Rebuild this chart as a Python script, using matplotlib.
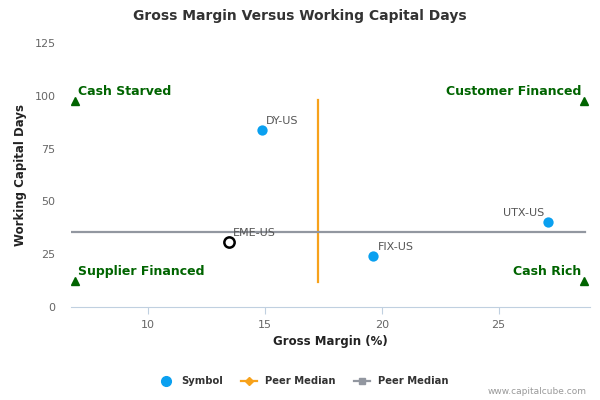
"""Gross margin vs working capital days quadrant chart."""

import matplotlib

matplotlib.use("Agg")
import matplotlib.pyplot as plt
from matplotlib.lines import Line2D

# Peer points
symbols = ["DY-US", "FIX-US", "UTX-US"]
gross_margin = [14.87, 19.64, 27.12]
wc_days = [83.8, 24.3, 40.4]

# Highlighted company (open circle)
focus_symbol = "EME-US"
focus_margin = 13.46
focus_days = 30.8

# Peer medians
median_margin = 17.28
median_days = 35.5
median_margin_span = [12.0, 98.0]
median_days_span = [6.7, 28.7]

# Quadrant markers
quad_x = [6.9, 28.65]
quad_y = [12.3, 97.5]
quad_labels = {
    "Cash Starved": (0, 1),
    "Customer Financed": (1, 1),
    "Supplier Financed": (0, 0),
    "Cash Rich": (1, 0),
}

xticks = [10, 15, 20, 25]
yticks = [0, 25, 50, 75, 100, 125]

BLUE = "#0aa0f0"
ORANGE = "#f7a21b"
GREY = "#9297a0"
GREEN = "#006400"

plt.rcParams["font.family"] = ["DejaVu Sans"]

fig = plt.figure(figsize=(6, 4), dpi=100)
ax = fig.add_axes([0.118, 0.2325, 0.865, 0.66])

ax.plot([median_margin, median_margin], median_margin_span, color=ORANGE, lw=1.6, zorder=2)
ax.plot(median_days_span, [median_days, median_days], color=GREY, lw=1.6, zorder=2)

ax.scatter(gross_margin, wc_days, s=55, color=BLUE, zorder=4, linewidths=0)
for sym, x, y in zip(symbols, gross_margin, wc_days):
    if sym == "UTX-US":
        ax.annotate(sym, (x, y), xytext=(-3, 3), textcoords="offset points",
                    ha="right", va="bottom", fontsize=8, color="#555555")
    else:
        ax.annotate(sym, (x, y), xytext=(3, 3), textcoords="offset points",
                    ha="left", va="bottom", fontsize=8, color="#555555")

ax.scatter([focus_margin], [focus_days], s=55, facecolor="white", edgecolor="black",
           linewidths=1.8, zorder=4)
ax.annotate(focus_symbol, (focus_margin, focus_days), xytext=(3, 3),
            textcoords="offset points", ha="left", va="bottom", fontsize=8,
            color="#555555")

for label, (i, j) in quad_labels.items():
    x, y = quad_x[i], quad_y[j]
    ax.plot(x, y, marker="^", color=GREEN, ms=5.5, zorder=3)
    ax.annotate(label, (x, y), xytext=(2 if i == 0 else -2, 2),
                textcoords="offset points", ha="left" if i == 0 else "right",
                va="bottom", fontsize=9, fontweight="bold", color=GREEN)

ax.set_xlim(6.7, 28.9)
ax.set_ylim(0, 125)
ax.set_xticks(xticks)
ax.set_yticks(yticks)
for side in ["top", "right", "left"]:
    ax.spines[side].set_visible(False)
ax.spines["bottom"].set_color("#c0d0e0")
ax.tick_params(axis="x", colors="#c0d0e0", labelcolor="#666666", labelsize=8,
               length=5, pad=4)
ax.tick_params(axis="y", length=0, labelcolor="#666666", labelsize=8, pad=11)

ax.set_xlabel("Gross Margin (%)", fontsize=8.5, fontweight="bold", color="#222222",
              labelpad=4)
ax.set_ylabel("Working Capital Days", fontsize=8.5, fontweight="bold", color="#222222",
              labelpad=5)
fig.text(0.5, 0.96, "Gross Margin Versus Working Capital Days", ha="center", va="center",
         fontsize=10, fontweight="bold", color="#333333")

handles = [
    Line2D([], [], marker="o", color=BLUE, ls="none", ms=7),
    Line2D([], [], marker="D", color=ORANGE, lw=1.6, ms=4),
    Line2D([], [], marker="s", color=GREY, lw=1.6, ms=5),
]
fig.legend(handles, ["Symbol", "Peer Median", "Peer Median"], loc="center",
           bbox_to_anchor=(0.505, 0.047), ncol=3, frameon=False, handlelength=1.6,
           columnspacing=1.8, prop={"size": 7.2, "weight": "bold"}, labelcolor="#333333")
fig.text(0.978, 0.02, "www.capitalcube.com", ha="right", va="center", fontsize=6.5,
         color="#999999")

fig.savefig("out.png", dpi=100)
